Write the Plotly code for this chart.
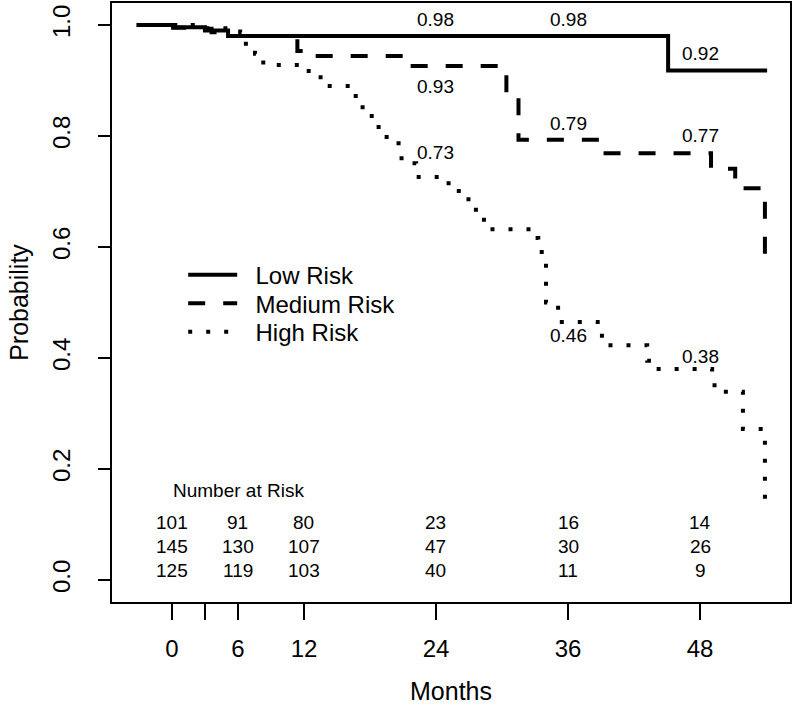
import plotly.graph_objects as go

# ---- data (months, survival probability) ----
low_t = [-3.2, 0.3, 3.0, 5.1, 45.1, 54.1]
low_s = [1.0, 0.996, 0.99, 0.98, 0.918, 0.918]

med_t = [-3.2, 0.1, 3.0, 3.6, 4.8, 11.4, 11.9, 21.0, 30.4, 31.5, 39.2, 49.0, 51.2, 53.9, 54.1]
med_s = [1.0, 0.995, 0.993, 0.987, 0.98, 0.953, 0.944, 0.926, 0.876, 0.793, 0.769, 0.741, 0.706, 0.567, 0.567]

high_t = [-3.2, 3.0, 6.2, 6.45, 7.55, 8.3, 11.9, 12.8, 13.9, 16.4, 17.0, 17.7, 18.5, 19.2, 20.0,
          20.6, 21.5, 22.2, 24.6, 25.7, 26.7, 27.3, 28.0, 28.7, 32.8, 33.3, 34.0, 35.1, 38.7,
          39.5, 43.2, 44.0, 49.1, 50.0, 51.9, 53.9, 54.1]
high_s = [1.0, 0.994, 0.987, 0.966, 0.948, 0.928, 0.917, 0.906, 0.890, 0.872, 0.852, 0.836, 0.816,
          0.798, 0.787, 0.760, 0.751, 0.726, 0.715, 0.701, 0.686, 0.667, 0.649, 0.632, 0.616,
          0.591, 0.50, 0.465, 0.44, 0.423, 0.395, 0.38, 0.351, 0.339, 0.272, 0.15, 0.15]

series_names = ["Low Risk", "Medium Risk", "High Risk"]

# value labels on curves
label_times = [24, 36, 48]
low_labels = ["0.98", "0.98", "0.92"]
med_labels = ["0.93", "0.79", "0.77"]
high_labels = ["0.73", "0.46", "0.38"]
low_label_vals = [0.98, 0.98, 0.918]
med_label_vals = [0.926, 0.793, 0.769]
high_label_vals = [0.726, 0.465, 0.38]

# number at risk
risk_times = [0, 6, 12, 24, 36, 48]
risk_low = [101, 91, 80, 23, 16, 14]
risk_med = [145, 130, 107, 47, 30, 26]
risk_high = [125, 119, 103, 40, 11, 9]

x_tickvals = [0, 3, 6, 12, 24, 36, 48]
x_ticktext = ["0", "", "6", "12", "24", "36", "48"]
y_tickvals = [0.0, 0.2, 0.4, 0.6, 0.8, 1.0]
y_ticktext = ["0.0", "0.2", "0.4", "0.6", "0.8", "1.0"]

FONT = "Liberation Sans, Arial, Helvetica, sans-serif"
NB = "\u00a0"

fig = go.Figure()
styles = [dict(color="black", width=4, dash="solid"),
          dict(color="black", width=4, dash="17px,18px"),
          dict(color="black", width=4, dash="4px,14px")]
legend_ids = ["legend", "legend2", "legend3"]
legend_y = [0.5833, 0.5357, 0.4881]
for name, t, s, st, lg in zip(series_names, [low_t, med_t, high_t], [low_s, med_s, high_s],
                              styles, legend_ids):
    fig.add_trace(go.Scatter(x=t, y=s, mode="lines", name=NB * 2 + name, legend=lg,
                             line=dict(shape="hv", **st), hoverinfo="skip"))

ann = []
for labels, vals, off in [(low_labels, low_label_vals, [0.029, 0.029, 0.030]),
                          (med_labels, med_label_vals, [-0.036, 0.029, 0.031]),
                          (high_labels, high_label_vals, [0.045, -0.025, 0.022])]:
    for t, lab, v, o in zip(label_times, labels, vals, off):
        ann.append(dict(x=t, y=v + o, text=lab, showarrow=False, xref="x", yref="y",
                        font=dict(size=19, color="black", family=FONT)))

ann.append(dict(x=-0.1, y=0.162, text="Number at Risk", showarrow=False, xanchor="left",
                font=dict(size=19, color="black", family=FONT)))
for row, yy in [(risk_low, 0.1045), (risk_med, 0.061), (risk_high, 0.018)]:
    for t, n in zip(risk_times, row):
        ann.append(dict(x=t, y=yy, text=str(n), showarrow=False,
                        font=dict(size=19, color="black", family=FONT)))

legend_common = dict(x=0.105, xanchor="left", yanchor="top", bgcolor="rgba(0,0,0,0)",
                     font=dict(size=24, color="black", family=FONT), itemwidth=49)

fig.update_layout(
    width=800, height=714,
    margin=dict(l=112, r=10, t=3, b=112, autoexpand=False),
    paper_bgcolor="white", plot_bgcolor="white",
    font=dict(family=FONT, color="black"),
    annotations=ann,
    showlegend=True,
    legend=dict(y=legend_y[0], **legend_common),
    legend2=dict(y=legend_y[1], **legend_common),
    legend3=dict(y=legend_y[2], **legend_common),
    xaxis=dict(range=[-5.45, 56.18], tickvals=x_tickvals, ticktext=x_ticktext,
               automargin=False,
               showline=True, mirror=True, linecolor="black", linewidth=1.5,
               ticks="outside", ticklen=16, tickwidth=1.5, tickcolor="black",
               showgrid=False, zeroline=False, tickfont=dict(size=24, family=FONT),
               ticklabelstandoff=8,
               title=dict(text="Months", font=dict(size=25, family=FONT), standoff=22)),
    yaxis=dict(range=[-0.0396, 1.0396], tickvals=y_tickvals, ticktext=y_ticktext,
               automargin=False,
               showline=True, mirror=True, linecolor="black", linewidth=1.5,
               ticks="outside", ticklen=12, tickwidth=1.5, tickcolor="black",
               showgrid=False, zeroline=False, tickangle=-90, tickfont=dict(size=24, family=FONT),
               ticklabelstandoff=19,
               title=dict(text="Probability", font=dict(size=25, family=FONT), standoff=12)),
)

fig.write_html("out.html", config={"displayModeBar": False},
               post_script="document.body.style.margin='0px';document.body.style.overflow='hidden';")
